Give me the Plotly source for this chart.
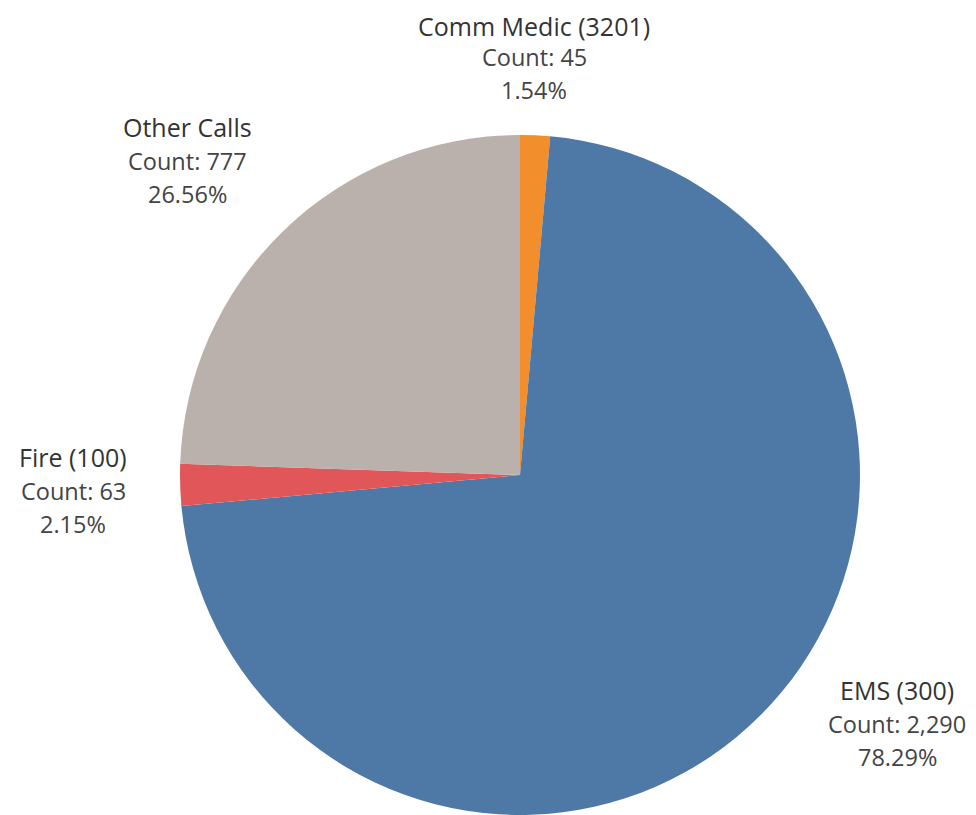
import plotly.graph_objects as go

categories = ["Comm Medic (3201)", "EMS (300)", "Fire (100)", "Other Calls"]
counts = [45, 2290, 63, 777]
count_labels = ["Count: 45", "Count: 2,290", "Count: 63", "Count: 777"]
pct_labels = ["1.54%", "78.29%", "2.15%", "26.56%"]
colors = ["#F28E2B", "#4E79A7", "#E15759", "#BAB0AC"]

W, H = 976, 815
OFF = 8  # page body margin
# label anchor positions (pixels in window, center of first line)
label_pos = {
    "Comm Medic (3201)": (534, 23),
    "EMS (300)": (897, 690),
    "Fire (100)": (73, 457),
    "Other Calls": (187, 127),
}

fig = go.Figure(go.Pie(
    labels=categories,
    values=counts,
    marker=dict(colors=colors, line=dict(width=0)),
    sort=False,
    direction="clockwise",
    rotation=0,
    textinfo="none",
    hoverinfo="label+value",
    showlegend=False,
    domain=dict(x=[(180 - OFF) / W, (860 - OFF) / W],
                y=[(H - (815 - OFF)) / H, (H - (135 - OFF)) / H]),
))

font_family = "Open Sans, Noto Sans, sans-serif"
annotations = []
for name, cl, pl in zip(categories, count_labels, pct_labels):
    px, py = label_pos[name]
    px -= OFF
    py -= OFF
    lines = [(name, 25, "#333333", 0), (cl, 23.5, "#444444", 34), (pl, 23.5, "#444444", 67)]
    for txt, size, col, dy in lines:
        ypix = max(py + dy, size * 0.72)
        annotations.append(dict(
            x=px / W, y=1 - ypix / H, xref="paper", yref="paper",
            text=txt, showarrow=False, xanchor="center", yanchor="middle",
            font=dict(family=font_family, size=size, color=col),
        ))

fig.update_layout(
    width=W, height=H,
    margin=dict(l=0, r=0, t=0, b=0),
    paper_bgcolor="white",
    plot_bgcolor="white",
    annotations=annotations,
)

fig.write_html("out.html")
